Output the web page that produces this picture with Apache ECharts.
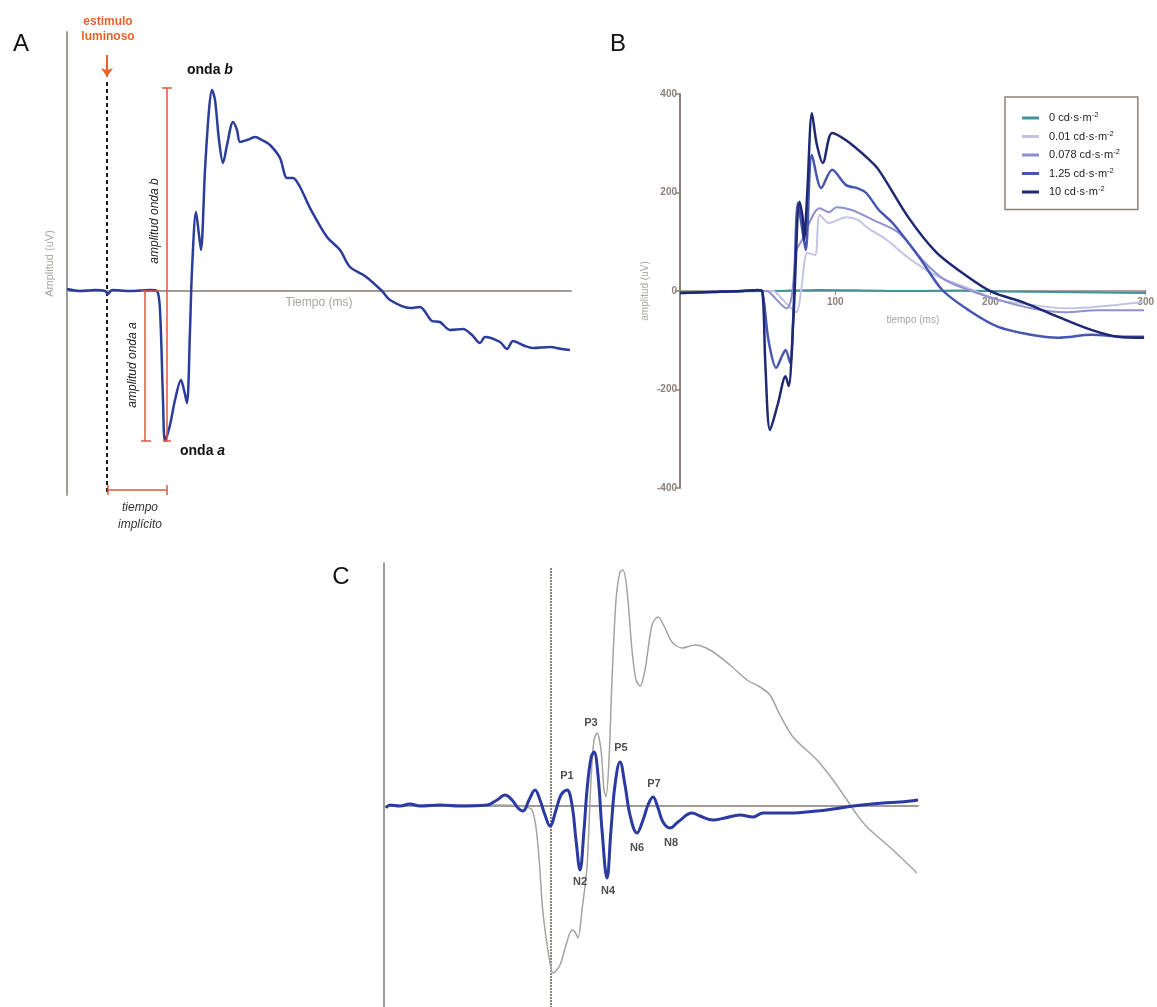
<!DOCTYPE html>
<html lang="es">
<head>
<meta charset="UTF-8">
<title>Electrorretinograma</title>
<script src="https://cdn.jsdelivr.net/npm/echarts@6/dist/echarts.min.js"></script>
<style>
  html, body { margin: 0; padding: 0; background: #fff; }
  #main { width: 1157px; height: 1007px; }
</style>
</head>
<body>
<div id="main"></div>
<script>
// ---- panel A: single ERG trace (ms, uV) ----
var aTime = [0,6.5,14,19,20.5,22.5,31.5,41.5,45,46.5,48,49,51.5,54,57,58.5,60,61.5,62.5,64.5,66,67,69,71,72.5,74,76,78,80,83,85,86.5,90,94,97.5,101.5,106.5,110,113,116.5,121.5,130,136.5,141.5,149,157.5,161.5,171.5,176.5,182.5,186.5,191.5,198,202.5,206.5,209,216.5,220,223,229,233,241.5,247.5,251.5];
var aAmp  = [2,0,1,0,-3,1,0,1,0,-19,-109,-150,-134,-109,-89,-99,-112,-39,21,79,56,41,121,181,201,191,151,128,146,169,161,149,151,154,151,146,133,113,113,104,83,54,41,24,15,0,-9,-17,-16,-30,-31,-39,-38,-44,-52,-46,-51,-58,-50,-55,-57,-56,-58,-59];
var stimMs = 20;

// ---- panel B: intensity series ----
var bNames = ['0', '0.01', '0.078', '1.25', '10'];
var bColors = ['#3f939c', '#c3c3e6', '#8f90d2', '#4656b2', '#1e2873'];
var b0Time = [0,30,60,90,120,150,180,210,240,270,300];
var b0Amp  = [-3,-1,0,2,1,0,1,-1,-2,-3,-4];
var b001Time = [0,40,60,64,70,75,78,82,87,90,96,107,115,120,133,149,167,184,205,226,248,269,299];
var b001Amp  = [-4,0,0,-10,-30,-43,0,77,73,155,138,150,144,130,104,63,28,8,-18,-28,-35,-32,-22];
var b0078Time = [0,40,56,60,66,69,72,75,78,90,96,101,111,124,141,158,171,186,205,226,248,269,299];
var b0078Amp  = [-4,0,0,-10,-30,-35,-10,83,100,168,160,170,164,145,118,57,22,2,-18,-35,-43,-39,-39];
var b125Time = [0,20,40,52,54,57,62,66,68,71,73,76,79,81,85,91,98,107,115,120,128,137,154,169,186,205,226,244,265,287,299];
var b125Amp  = [-4,-2,0,1,-20,-100,-156,-130,-120,-146,-50,179,120,83,276,209,246,215,208,199,165,138,69,2,-39,-73,-89,-95,-89,-93,-93];
var b10Time = [0,20,40,50,53,55,58,63,68,70,73,77,79,80,82,85,88,92,98,107,120,128,147,165,184,201,222,244,265,282,299];
var b10Amp  = [-4,-2,0,2,0,-150,-282,-230,-173,-193,-60,181,150,104,200,361,300,260,321,306,272,246,150,79,32,-2,-24,-53,-79,-93,-95];

// ---- panel C: flash response (grey) and oscillatory potentials (blue) ----
var cFlashTime = [0,56.5,68,74,77,79.5,83,84.5,88,91,94,95.5,97,99,101.5,103.5,105,106.5,108.5,110,111,112.5,114,116,118,119.5,121.5,124,126,128,130.5,134,137,140.5,144,149,155.5,163,173,181.5,188,193,198,204.5,216.5,224.5,231.5,235.5,241.5,254.5,266.5];
var cFlashAmp  = [0,1,0,-4,-40,-107,-157,-167,-159,-139,-124,-126,-132,-104,-61,26,66,73,56,16,9,46,126,206,234,236,216,156,126,120,136,181,189,178,164,158,161,156,141,126,119,111,91,69,46,26,6,-6,-21,-44,-67];
var cOpTime = [1,3,8,13,18,28,38,51.5,56.5,60.5,64,67,69.5,72.5,75.5,78,80.5,83,86,88.5,91.5,94,96,98,100,101.5,103.5,105,107,109,111.5,113.5,115.5,118,120.5,123,126.5,129.5,132,134.5,137,139.5,143,147,154,158,164.5,170.5,178,184.5,189.5,203,216.5,224.5,234.5,249.5,258,267];
var cOpAmp  = [-2,1,0,2,0,1,0,1,6,11,6,-2,-5,6,16,6,-9,-20,-4,11,16,1,-34,-64,-24,16,48,54,31,-24,-72,-24,21,44,21,-9,-27,-14,1,9,-2,-16,-22,-16,-7,-10,-14,-12,-9,-11,-7,-7,-5,-3,0,3,4,6];
var opNames = ['P1','P3','P5','P7','N2','N4','N6','N8'];
var opLabelTime = [91.5,103.5,118.5,135,98,112,126.5,143.5];
var opLabelAmp  = [30,83,58,22,-76,-85,-42,-37];
var cStimMs = 83.5;

function zip(xs, ys) {
  var out = [];
  for (var i = 0; i < xs.length; i++) out.push([xs[i], ys[i]]);
  return out;
}

var FONT = 'Liberation Sans, Arial, sans-serif';
var axisGrey = '#a29c98';
var axisBrown = '#8c817a';
var red = '#e2563c';

var chart = echarts.init(document.getElementById('main'));

// annotation geometry for panel A, derived from the trace
var aMin = Math.min.apply(null, aAmp);
var aMax = Math.max.apply(null, aAmp);
var aMinT = aTime[aAmp.indexOf(aMin)];
var bx = aMinT + 1, ax = 39, tiY = -199;
var brackets = [
  { coords: [[bx, aMin], [bx, aMax + 2]] },
  { coords: [[bx - 2.5, aMax + 2], [bx + 2.5, aMax + 2]] },
  { coords: [[bx - 2, aMin], [bx + 2, aMin]] },
  { coords: [[ax, 0], [ax, aMin]] },
  { coords: [[ax - 2, 0], [ax + 7, 0]] },
  { coords: [[ax - 2, aMin], [ax + 3, aMin]] },
  { coords: [[stimMs + 0.5, tiY], [bx, tiY]] },
  { coords: [[stimMs + 0.5, tiY - 5], [stimMs + 0.5, tiY + 5]] },
  { coords: [[bx, tiY - 5], [bx, tiY + 5]] }
];

var bSeriesData = [
  zip(b0Time, b0Amp), zip(b001Time, b001Amp), zip(b0078Time, b0078Amp),
  zip(b125Time, b125Amp), zip(b10Time, b10Amp)
];
var bSeries = bNames.map(function (n, i) {
  return {
    name: n, type: 'line', xAxisIndex: 1, yAxisIndex: 1,
    data: bSeriesData[i], showSymbol: false, smooth: 0.3,
    lineStyle: { color: bColors[i], width: i >= 3 ? 2.5 : 2 },
    itemStyle: { color: bColors[i] }
  };
});

var option = {
  animation: false,
  backgroundColor: '#fff',
  textStyle: { fontFamily: FONT },
  grid: [
    { left: 67, top: 32, width: 504, height: 463 },
    { left: 680, top: 94, width: 468, height: 394 },
    { left: 384, top: 563, width: 534, height: 444 }
  ],
  // x axes sit on the zero line (offset from the grid bottom)
  xAxis: [
    { gridIndex: 0, type: 'value', min: 0, max: 252, offset: -204,
      axisLine: { onZero: false, lineStyle: { color: axisGrey, width: 2 } },
      axisTick: { show: false }, axisLabel: { show: false }, splitLine: { show: false },
      name: 'Tiempo (ms)', nameLocation: 'middle', nameGap: 6,
      nameTextStyle: { color: '#aaa39f', fontSize: 12 } },
    { gridIndex: 1, type: 'value', min: 0, max: 300, interval: 100, offset: -197,
      axisLine: { onZero: false, lineStyle: { color: axisBrown, width: 1.5 } },
      axisTick: { show: true, length: 4, lineStyle: { color: axisBrown } },
      axisLabel: { showMinLabel: false, color: axisBrown, fontSize: 10, fontWeight: 'bold', margin: 6 },
      splitLine: { show: false },
      name: 'tiempo (ms)', nameLocation: 'middle', nameGap: 24,
      nameTextStyle: { color: '#aaa39f', fontSize: 10 } },
    { gridIndex: 2, type: 'value', min: 0, max: 267, offset: -201,
      axisLine: { onZero: false, lineStyle: { color: axisGrey, width: 2 } },
      axisTick: { show: false }, axisLabel: { show: false }, splitLine: { show: false } }
  ],
  yAxis: [
    { gridIndex: 0, type: 'value', min: -204, max: 259,
      axisLine: { lineStyle: { color: axisGrey, width: 2 } },
      axisTick: { show: false }, axisLabel: { show: false }, splitLine: { show: false },
      name: 'Amplitud (uV)', nameLocation: 'middle', nameGap: 12,
      nameTextStyle: { color: '#aaa39f', fontSize: 11 } },
    { gridIndex: 1, type: 'value', min: -400, max: 400, interval: 200,
      axisLine: { lineStyle: { color: axisBrown, width: 2 } },
      axisTick: { show: true, length: 5, lineStyle: { color: axisBrown, width: 1.5 } },
      axisLabel: { color: axisBrown, fontSize: 10, fontWeight: 'bold', margin: 3 },
      splitLine: { show: false },
      name: 'amplitud (uV)', nameLocation: 'middle', nameGap: 30,
      nameTextStyle: { color: '#aaa39f', fontSize: 10 } },
    { gridIndex: 2, type: 'value', min: -201, max: 243,
      axisLine: { lineStyle: { color: axisGrey, width: 2 } },
      axisTick: { show: false }, axisLabel: { show: false }, splitLine: { show: false } }
  ],
  legend: {
    data: bNames, orient: 'vertical', left: 1005, top: 97,
    padding: [14, 18, 12, 17], itemGap: 6, itemWidth: 17, itemHeight: 3, icon: 'rect',
    borderColor: axisBrown, borderWidth: 1.5,
    formatter: function (n) { return n + ' cd·s·m{s|-2}'; },
    textStyle: { fontSize: 11, color: '#222', fontFamily: FONT, padding: [0, 0, 0, 5],
      rich: { s: { fontSize: 7.5, verticalAlign: 'top', padding: [0, 0, 6, 0] } } }
  },
  series: [
    // panel A
    { name: 'A', type: 'line', xAxisIndex: 0, yAxisIndex: 0, data: zip(aTime, aAmp),
      showSymbol: false, smooth: 0.3, lineStyle: { color: '#2c3c9c', width: 2.5 }, z: 3 },
    { name: 'brackets', type: 'lines', coordinateSystem: 'cartesian2d', xAxisIndex: 0, yAxisIndex: 0,
      data: brackets, silent: true, lineStyle: { color: red, width: 1.5, opacity: 1 }, z: 4 },
    { name: 'stim', type: 'lines', coordinateSystem: 'cartesian2d', xAxisIndex: 0, yAxisIndex: 0,
      data: [{ coords: [[stimMs, 209], [stimMs, -202]] }], silent: true,
      lineStyle: { color: '#1a1a1a', width: 2, type: [4, 3], opacity: 1 }, z: 2 },
    { name: 'arrow', type: 'lines', coordinateSystem: 'cartesian2d', xAxisIndex: 0, yAxisIndex: 0,
      data: [{ coords: [[stimMs, 236], [stimMs, 214]] }], silent: true,
      symbol: ['none', 'arrow'], symbolSize: 9,
      lineStyle: { color: '#e8622a', width: 2, opacity: 1 } }
  ].concat(bSeries).concat([
    // panel C
    { name: 'flash', type: 'line', xAxisIndex: 2, yAxisIndex: 2, data: zip(cFlashTime, cFlashAmp),
      showSymbol: false, smooth: 0.3, lineStyle: { color: '#a3a3a3', width: 1.5 }, z: 2 },
    { name: 'OP', type: 'line', xAxisIndex: 2, yAxisIndex: 2, data: zip(cOpTime, cOpAmp),
      showSymbol: false, smooth: 0.4, lineStyle: { color: '#2a3aa2', width: 3 }, z: 3 },
    { name: 'cstim', type: 'lines', coordinateSystem: 'cartesian2d', xAxisIndex: 2, yAxisIndex: 2,
      data: [{ coords: [[cStimMs, 238], [cStimMs, -201]] }], silent: true,
      lineStyle: { color: '#6b5a4e', width: 1.5, type: [2, 1], opacity: 1 }, z: 1 },
    { name: 'oplabels', type: 'scatter', xAxisIndex: 2, yAxisIndex: 2, symbolSize: 0, silent: true,
      data: opNames.map(function (n, i) { return [opLabelTime[i], opLabelAmp[i], n]; }),
      label: { show: true, position: 'inside', formatter: function (p) { return p.data[2]; },
        fontSize: 11, fontWeight: 'bold', color: '#222' }, z: 5 }
  ]),
  graphic: [
    { type: 'text', x: 21, y: 44, style: { text: 'A', font: '24px ' + FONT, fill: '#111', textAlign: 'center', textVerticalAlign: 'middle' } },
    { type: 'text', x: 618, y: 44, style: { text: 'B', font: '24px ' + FONT, fill: '#111', textAlign: 'center', textVerticalAlign: 'middle' } },
    { type: 'text', x: 341, y: 577, style: { text: 'C', font: '24px ' + FONT, fill: '#111', textAlign: 'center', textVerticalAlign: 'middle' } },
    { type: 'text', x: 108, y: 22, style: { text: 'estimulo', font: 'bold 12px ' + FONT, fill: '#e8622a', textAlign: 'center', textVerticalAlign: 'middle' } },
    { type: 'text', x: 108, y: 37, style: { text: 'luminoso', font: 'bold 12px ' + FONT, fill: '#e8622a', textAlign: 'center', textVerticalAlign: 'middle' } },
    { type: 'text', x: 187, y: 70, style: { text: 'onda {i|b}', font: 'bold 14px ' + FONT, fill: '#111', textVerticalAlign: 'middle',
      rich: { i: { fontStyle: 'italic', fontWeight: 'bold', fontSize: 14, fontFamily: FONT } } } },
    { type: 'text', x: 180, y: 451, style: { text: 'onda {i|a}', font: 'bold 14px ' + FONT, fill: '#111', textVerticalAlign: 'middle',
      rich: { i: { fontStyle: 'italic', fontWeight: 'bold', fontSize: 14, fontFamily: FONT } } } },
    { type: 'text', x: 155, y: 221, rotation: Math.PI / 2, style: { text: 'amplitud onda b', font: 'italic 12px ' + FONT, fill: '#222', textAlign: 'center', textVerticalAlign: 'middle' } },
    { type: 'text', x: 133, y: 365, rotation: Math.PI / 2, style: { text: 'amplitud onda a', font: 'italic 12px ' + FONT, fill: '#222', textAlign: 'center', textVerticalAlign: 'middle' } },
    { type: 'text', x: 140, y: 508, style: { text: 'tiempo', font: 'italic 12px ' + FONT, fill: '#333', textAlign: 'center', textVerticalAlign: 'middle' } },
    { type: 'text', x: 140, y: 525, style: { text: 'implícito', font: 'italic 12px ' + FONT, fill: '#333', textAlign: 'center', textVerticalAlign: 'middle' } }
  ]
};

chart.setOption(option);
</script>
</body>
</html>
